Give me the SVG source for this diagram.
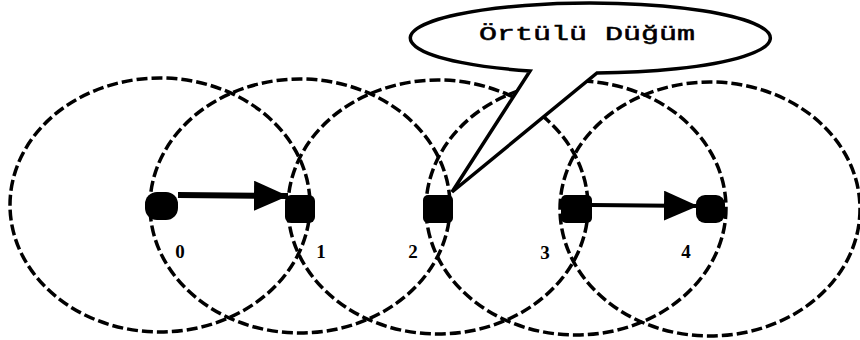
<svg xmlns="http://www.w3.org/2000/svg" width="860" height="340" viewBox="0 0 860 340">
<style>
.rng{fill:none;stroke:#000;stroke-width:3.5;stroke-dasharray:11 4}
.nd{fill:#000}
.lbl{font-family:"Liberation Serif",serif;font-weight:bold;font-size:19px;fill:#000;text-anchor:middle}
.call{fill:#fff;stroke:#000;stroke-width:3.5;stroke-linejoin:miter}
.ct{font-family:"Liberation Mono","Courier New",monospace;font-size:20px;fill:#000;stroke:#000;stroke-width:0.5}
</style>
<defs>
<marker id="ah" markerUnits="userSpaceOnUse" markerWidth="36" markerHeight="30" refX="34" refY="15" orient="auto">
<path d="M0,0 L34,15 L0,30 Z" fill="#000"/>
</marker>
</defs>
<rect width="860" height="340" fill="#fff"/>
<g id="ranges">
<ellipse class="rng" cx="160" cy="205" rx="150" ry="127"/>
<ellipse class="rng" cx="300" cy="206" rx="150" ry="127"/>
<ellipse class="rng" cx="438" cy="207" rx="150" ry="127"/>
<ellipse class="rng" cx="576" cy="208" rx="150" ry="127"/>
<ellipse class="rng" cx="710" cy="209" rx="150" ry="127"/>
</g>
<g id="callout">
<path class="call" d="M530,71 L452,192 L597,73 A180,35 0 1 0 530,71 Z"/>
<text class="ct" transform="translate(479,40) scale(1.5,1)">Örtülü Düğüm</text>
</g>
<g id="connectors">
<line x1="178" y1="195" x2="288" y2="196" stroke="#000" stroke-width="6" marker-end="url(#ah)"/>
<line x1="592" y1="205" x2="698" y2="206" stroke="#000" stroke-width="4" marker-end="url(#ah)"/>
</g>
<g id="node0"><rect class="nd" x="145" y="192" width="33" height="28" rx="12"/><text class="lbl" x="180" y="258">0</text></g>
<g id="node1"><rect class="nd" x="285" y="195" width="30" height="28" rx="6"/><text class="lbl" x="321" y="258">1</text></g>
<g id="node2"><rect class="nd" x="423" y="195" width="30" height="28" rx="5"/><text class="lbl" x="413" y="258">2</text></g>
<g id="node3"><rect class="nd" x="561" y="195" width="31" height="28" rx="5"/><text class="lbl" x="545" y="259">3</text></g>
<g id="node4"><rect class="nd" x="696" y="195" width="29" height="28" rx="9"/><text class="lbl" x="686" y="258">4</text></g>
</svg>
